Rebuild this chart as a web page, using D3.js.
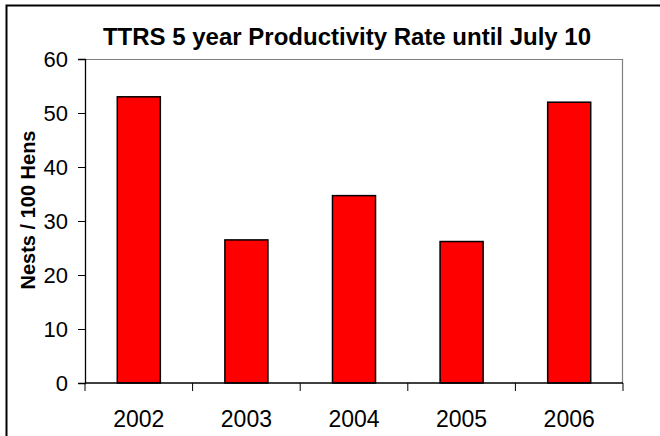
<!DOCTYPE html>
<html>
<head>
<meta charset="utf-8">
<script src="https://cdn.jsdelivr.net/npm/d3@7"></script>
<style>
  body { margin: 0; background: #fff; }
  svg { display: block; font-family: "Liberation Sans", Arial, sans-serif; }
</style>
</head>
<body>
<div id="chart"></div>
<script>
const width = 660;
const height = 436;

// data
const years = ["2002", "2003", "2004", "2005", "2006"];
const nests = [53, 26.5, 34.7, 26.2, 52];
const yTicks = [0, 10, 20, 30, 40, 50, 60];

const margin = {left: 85, right: 37, top: 59, bottom: 53};
const plotW = width - margin.left - margin.right;
const plotH = height - margin.top - margin.bottom;

const svg = d3.select("#chart").append("svg").attr("width", width).attr("height", height);

// outer frame (only top and left are in view)
svg.append("path").attr("d", `M6.5,${height} V5.5 H${width}`)
  .attr("fill", "none").attr("stroke", "#000").attr("stroke-width", 2);

const x = d3.scaleBand().domain(years).range([0, plotW]).padding(0);
const y = d3.scaleLinear().domain([0, 60]).range([plotH, 0]);

const g = svg.append("g").attr("transform", `translate(${margin.left},${margin.top})`);

// gray plot border top + right
g.append("path").attr("d", `M0,0.5 H${plotW - 0.5} V${plotH}`)
  .attr("fill", "none").attr("stroke", "#808080").attr("stroke-width", 1.2);

// bars, 150% gap width like Excel
const barW = x.bandwidth() * 0.4;
g.selectAll("rect.bar").data(years).join("rect").attr("class", "bar")
  .attr("x", d => x(d) + (x.bandwidth() - barW) / 2)
  .attr("y", (d, i) => y(nests[i]))
  .attr("width", barW)
  .attr("height", (d, i) => plotH - y(nests[i]))
  .attr("fill", "#ff0000")
  .attr("stroke", "#000").attr("stroke-width", 1.5);

// y axis
const yAxis = g.append("g").call(d3.axisLeft(y).tickValues(yTicks).tickSize(7).tickPadding(10).tickFormat(d3.format("d")));
yAxis.select(".domain").attr("stroke", "#000").attr("stroke-width", 1.3);
yAxis.selectAll(".tick line").attr("stroke", "#000");
yAxis.selectAll("text").attr("font-size", 22).attr("fill", "#000").attr("font-family", null);

// x axis: ticks at category boundaries
const xAxis = g.append("g").attr("transform", `translate(0,${plotH})`);
xAxis.append("line").attr("x1", 0).attr("x2", plotW).attr("stroke", "#000").attr("stroke-width", 1.3);
const bounds = years.map(d => x(d)).concat([plotW]);
xAxis.selectAll("line.tk").data(bounds).join("line").attr("class", "tk")
  .attr("x1", d => d).attr("x2", d => d).attr("y1", 0).attr("y2", 8)
  .attr("stroke", "#000");
xAxis.selectAll("text").data(years).join("text")
  .attr("x", d => x(d) + x.bandwidth() / 2)
  .attr("y", 44)
  .attr("text-anchor", "middle")
  .attr("font-size", 23)
  .text(d => d);

// title
svg.append("text").attr("x", 347).attr("y", 45)
  .attr("text-anchor", "middle").attr("font-size", 24).attr("font-weight", "bold")
  .text("TTRS 5 year Productivity Rate until July 10");

// y label
svg.append("text").attr("transform", "translate(35,210) rotate(-90)")
  .attr("text-anchor", "middle").attr("font-size", 20).attr("font-weight", "bold")
  .text("Nests / 100 Hens");
</script>
</body>
</html>
